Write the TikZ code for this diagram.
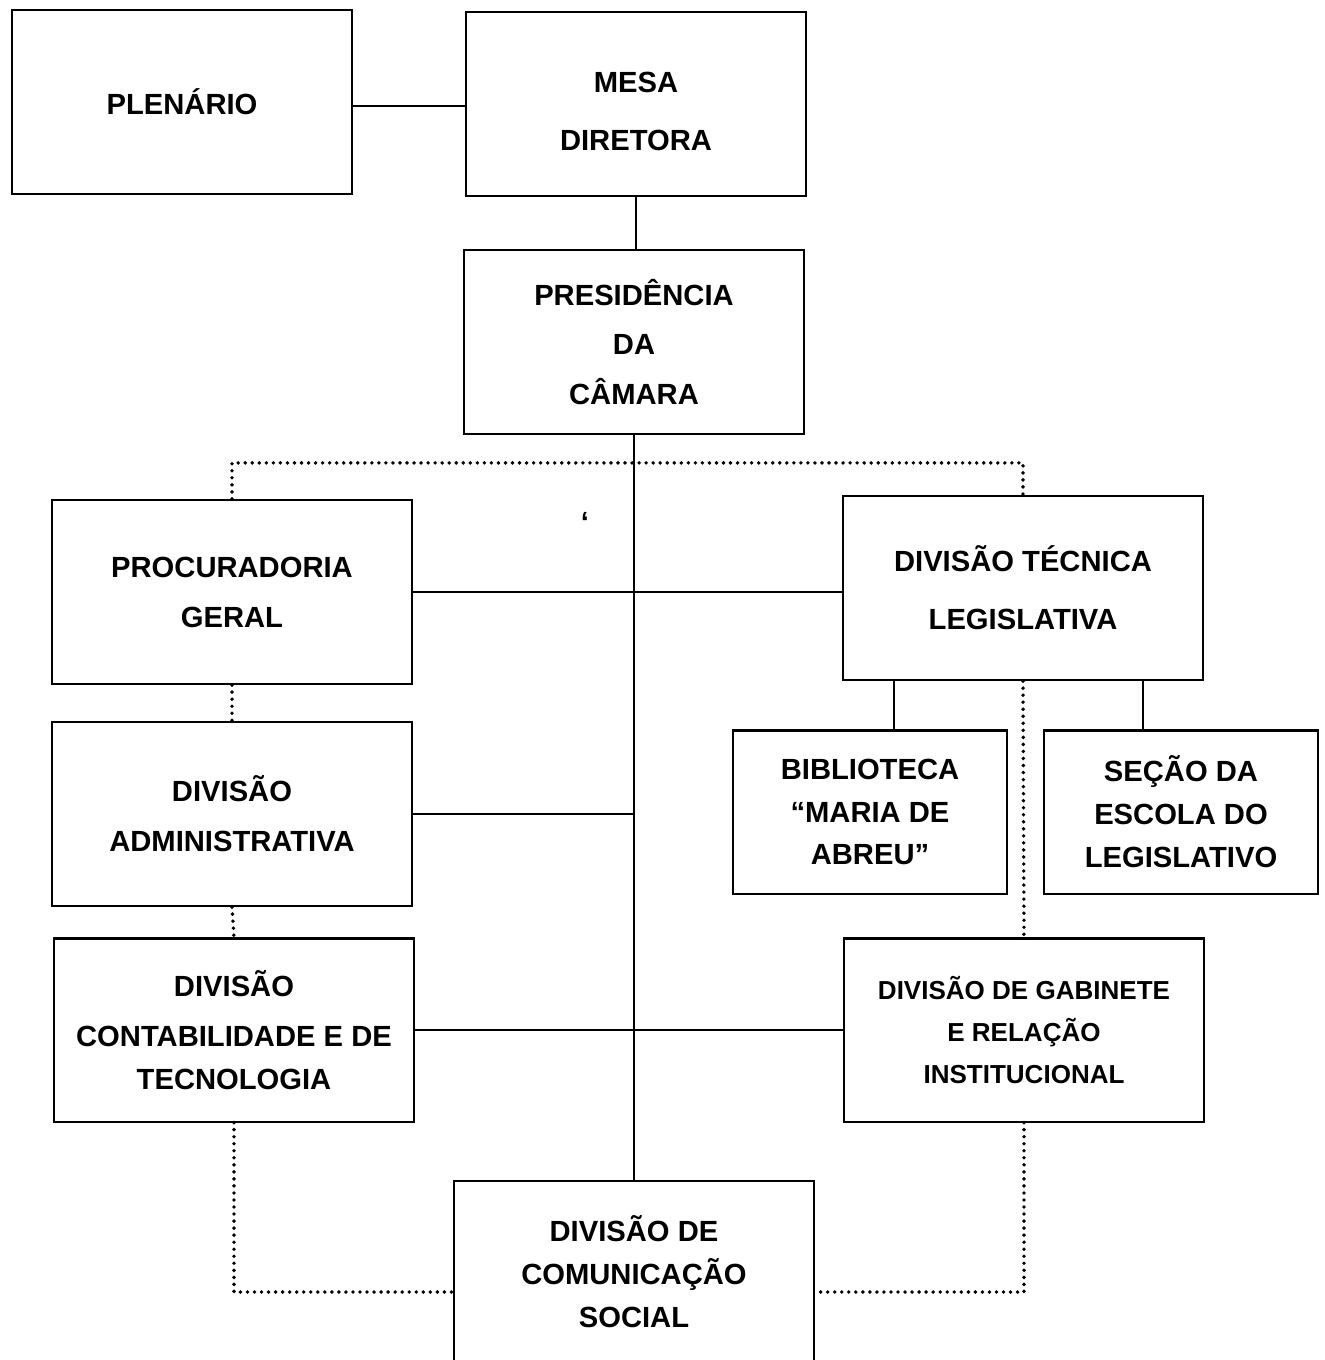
\documentclass[tikz,border=0pt]{standalone}
\usepackage{fontspec}
\setmainfont{Liberation Sans}
\usetikzlibrary{calc}

\begin{document}
\begin{tikzpicture}[x = 0.01cm, y = -0.01cm, caixa/.style = {draw = black,
	line width = 0.6pt, align = center, inner sep = 0pt,
	font = \bfseries\fontsize{8.3}{14.2}\selectfont},
	miuda/.style = {font = \bfseries\fontsize{8.3}{12.2}\selectfont},
	pontos/.style = {line width = 1.1pt, dash pattern = on 0pt off 2pt, line cap = round}]

		\clip (0, 0) rectangle (1325, 1360);

		\node (PLE) at ( 182,  102) [caixa, minimum width = 3.40cm, minimum height = 1.84cm] {PLENÁRIO};
		\node (MD)  at ( 636,  104) [caixa, minimum width = 3.39cm, minimum height = 1.84cm] {\\[-4pt]MESA\\[2.3pt]DIRETORA};
		\node (PC)  at ( 634,  342) [caixa, minimum width = 3.39cm, minimum height = 1.84cm] {PRESIDÊNCIA\\DA\\CÂMARA};
		\node (PG)  at ( 232,  592) [caixa, minimum width = 3.60cm, minimum height = 1.84cm] {PROCURADORIA\\GERAL};
		\node (DTL) at (1023,  588) [caixa, minimum width = 3.60cm, minimum height = 1.84cm] {DIVISÃO TÉCNICA\\[2.3pt]LEGISLATIVA};
		\node (BIB) at ( 870,  812) [caixa, miuda, minimum width = 2.73cm, minimum height = 1.63cm] {BIBLIOTECA\\“MARIA DE\\ABREU”};
		\node (SEL) at (1181,  812) [caixa, miuda, minimum width = 2.74cm, minimum height = 1.63cm] {SEÇÃO DA\\ESCOLA DO\\LEGISLATIVO};
		\node (DA)  at ( 232,  814) [caixa, minimum width = 3.60cm, minimum height = 1.84cm] {DIVISÃO\\ADMINISTRATIVA};
		\node (DCT) at ( 234, 1030) [caixa, miuda, minimum width = 3.60cm, minimum height = 1.83cm] {DIVISÃO\\[2pt]CONTABILIDADE E DE\\TECNOLOGIA};
		\node (DGR) at (1024, 1030) [caixa, minimum width = 3.60cm, minimum height = 1.83cm,
			font = \bfseries\fontsize{7.4}{12}\selectfont] {DIVISÃO DE GABINETE\\E RELAÇÃO\\INSTITUCIONAL};
		\node (DCS) at ( 634, 1272) [caixa, miuda, minimum width = 3.60cm, minimum height = 1.82cm] {DIVISÃO DE\\COMUNICAÇÃO\\SOCIAL};
		\node (ASP) at ( 585,  522) [font = \bfseries\fontsize{8.3}{10}\selectfont, inner sep = 0pt] {‘};

		% ligacoes cheias
		\draw [line width = 0.6pt] ([yshift = -0.04cm]PLE.east) -- ([yshift = -0.04cm]PLE.east -| MD.west);
		\draw [line width = 0.6pt] (MD.south) -- (MD.south |- PC.north);
		\draw [line width = 0.6pt] (PC.south) -- (DCS.north);
		\foreach \from/\to in {PG/DTL, DCT/DGR}
			\draw [line width = 0.6pt] (\from.east) -- (\from.east -| \to.west);
		\draw [line width = 0.6pt] (DA.east) -- (DA.east -| PC.south);
		\draw [line width = 0.6pt] ([xshift = 0.24cm]BIB.north) -- ([xshift = 0.24cm]BIB.north |- DTL.south);
		\draw [line width = 0.6pt] ([xshift = -0.38cm]SEL.north) -- ([xshift = -0.38cm]SEL.north |- DTL.south);

		% ligacoes pontilhadas
		\draw [pontos] (PG.north) -- ++(0, -36) -| (DTL.north);
		\foreach \from/\to in {PG/DA, DA/DCT, DTL/DGR}
			\draw [pontos] (\from.south) -- (\to.north);
		\draw [pontos] (DCT.south) |- ([yshift = -0.2cm]DCS.west);
		\draw [pontos] (DGR.south) |- ([yshift = -0.2cm]DCS.east);

	\end{tikzpicture}
\end{document}
